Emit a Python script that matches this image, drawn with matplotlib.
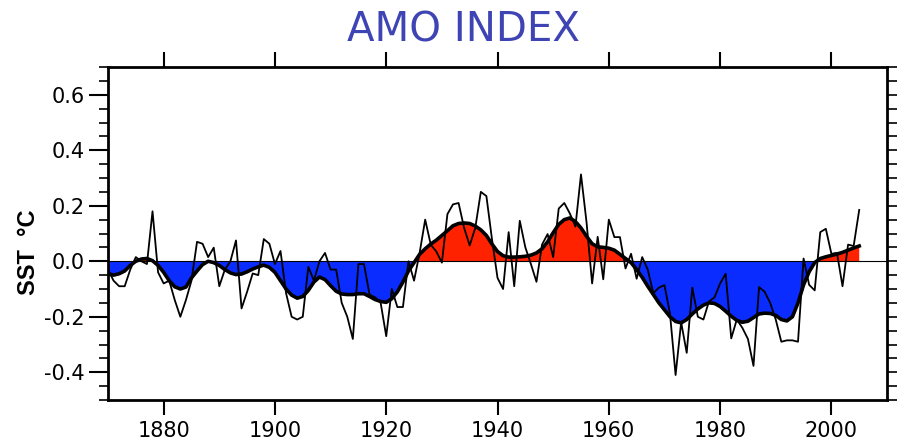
import numpy as np
import matplotlib
matplotlib.use('Agg')
import matplotlib.pyplot as plt
from matplotlib.ticker import MultipleLocator

# years of the record
years = np.arange(1870, 2006)

# annual AMO values (thin line)
annual = [
    -0.03, -0.07, -0.09, -0.09, -0.03, 0.015, 0.0, -0.01, 0.18, -0.04,      # 1870s
    -0.08, -0.07, -0.14, -0.20, -0.14, -0.07, 0.07, 0.063, 0.015, 0.049,    # 1880s
    -0.09, -0.03, 0.0, 0.075, -0.17, -0.11, -0.044, -0.05, 0.08, 0.063,     # 1890s
    -0.01, 0.037, -0.115, -0.20, -0.21, -0.20, -0.02, -0.07, 0.0, 0.03,     # 1900s
    -0.03, -0.03, -0.15, -0.20, -0.28, -0.01, -0.01, -0.12, -0.13, -0.15,   # 1910s
    -0.27, -0.10, -0.165, -0.165, 0.0, -0.07, 0.03, 0.15, 0.06, 0.035,      # 1920s
    -0.005, 0.17, 0.205, 0.21, 0.12, 0.057, 0.12, 0.25, 0.235, 0.08,        # 1930s
    -0.06, -0.10, 0.105, -0.09, 0.146, 0.05, -0.01, -0.074, 0.06, 0.098,    # 1940s
    0.015, 0.19, 0.21, 0.172, 0.125, 0.313, 0.14, -0.08, 0.088, -0.065,     # 1950s
    0.15, 0.087, 0.087, -0.026, 0.027, -0.063, 0.015, -0.03, -0.115, -0.095,  # 1960s
    -0.086, -0.19, -0.41, -0.22, -0.33, -0.095, -0.20, -0.21, -0.145, -0.13,  # 1970s
    -0.08, -0.045, -0.278, -0.21, -0.24, -0.28, -0.377, -0.093, -0.11, -0.15,  # 1980s
    -0.21, -0.29, -0.285, -0.285, -0.29, 0.01, -0.085, -0.105, 0.105, 0.117,   # 1990s
    0.027, 0.03, -0.09, 0.06, 0.055, 0.185,                                    # 2000s
]

# smoothed AMO (thick line, filled)
smooth = [
    -0.045, -0.05, -0.045, -0.035, -0.015, 0.0, 0.008, 0.01, 0.002, -0.015,
    -0.04, -0.07, -0.092, -0.10, -0.093, -0.06, -0.035, -0.012, 0.0, -0.005,
    -0.015, -0.03, -0.042, -0.048, -0.046, -0.038, -0.028, -0.02, -0.014, -0.022,
    -0.04, -0.07, -0.10, -0.122, -0.133, -0.127, -0.105, -0.075, -0.057, -0.066,
    -0.088, -0.108, -0.118, -0.12, -0.12, -0.117, -0.117, -0.127, -0.138, -0.145,
    -0.148, -0.135, -0.11, -0.075, -0.035, -0.005, 0.025, 0.045, 0.062, 0.076,
    0.093, 0.11, 0.128, 0.136, 0.138, 0.136, 0.127, 0.113, 0.093, 0.062,
    0.035, 0.02, 0.015, 0.015, 0.016, 0.018, 0.022, 0.03, 0.045, 0.07,
    0.103, 0.133, 0.15, 0.156, 0.143, 0.12, 0.09, 0.063, 0.052, 0.05,
    0.047, 0.04, 0.025, 0.01, -0.005, -0.03, -0.058, -0.09, -0.12, -0.15,
    -0.175, -0.20, -0.217, -0.222, -0.21, -0.19, -0.172, -0.158, -0.15, -0.152,
    -0.163, -0.18, -0.198, -0.213, -0.22, -0.216, -0.203, -0.19, -0.187, -0.188,
    -0.195, -0.21, -0.215, -0.20, -0.15, -0.085, -0.038, -0.005, 0.01, 0.016,
    0.021, 0.026, 0.032, 0.04, 0.048, 0.055,
]

annual = np.array(annual)
smooth = np.array(smooth)

fig = plt.figure(figsize=(9, 4.42), dpi=100)
ax = fig.add_axes([0.12, 0.095, 0.8656, 0.7534])

# filled smooth curve, red above zero and blue below
ax.fill_between(years, smooth, 0, where=smooth >= 0, interpolate=True,
                color='#ff2200', linewidth=0)
ax.fill_between(years, smooth, 0, where=smooth <= 0, interpolate=True,
                color='#0a2cff', linewidth=0)
ax.axhline(0, color='black', linewidth=0.8)
ax.plot(years, annual, color='black', linewidth=1.3)
ax.plot(years, smooth, color='black', linewidth=2.6)

ax.set_xlim(1870, 2010)
ax.set_ylim(-0.5, 0.7)

for s in ax.spines.values():
    s.set_linewidth(2)

ax.xaxis.set_major_locator(MultipleLocator(20))
ax.yaxis.set_major_locator(MultipleLocator(0.2))
ax.yaxis.set_minor_locator(MultipleLocator(0.05))
ax.tick_params(axis='x', which='major', direction='out', top=True, bottom=True,
               length=11, width=1.5, labelsize=15, pad=4)
ax.tick_params(axis='y', which='major', direction='out', left=True, right=False,
               length=13.5, width=1.5, labelsize=15, pad=3)
ax.tick_params(axis='y', which='minor', direction='out', left=True, right=False,
               length=6.5, width=1.2)
ax.set_yticks(np.arange(-0.4, 0.61, 0.2))
ax.set_yticklabels(['-0.4', '-0.2', '0.0', '0.2', '0.4', '0.6'])

# right side ticks, all short
ax2 = ax.twinx()
ax2.set_ylim(-0.5, 0.7)
ax2.yaxis.set_major_locator(MultipleLocator(0.05))
ax2.tick_params(axis='y', which='major', direction='out', length=7, width=1.2,
                labelright=False)
for s in ax2.spines.values():
    s.set_visible(False)

fig.text(0.515, 0.932, 'AMO INDEX', color='#3f44b4', fontsize=29,
         ha='center', va='center', family='DejaVu Sans')
fig.text(0.032, 0.43, 'SST  °C', rotation=90, fontsize=17, fontweight='bold',
         ha='center', va='center', family='Liberation Sans')

fig.savefig('out.png', dpi=100)
